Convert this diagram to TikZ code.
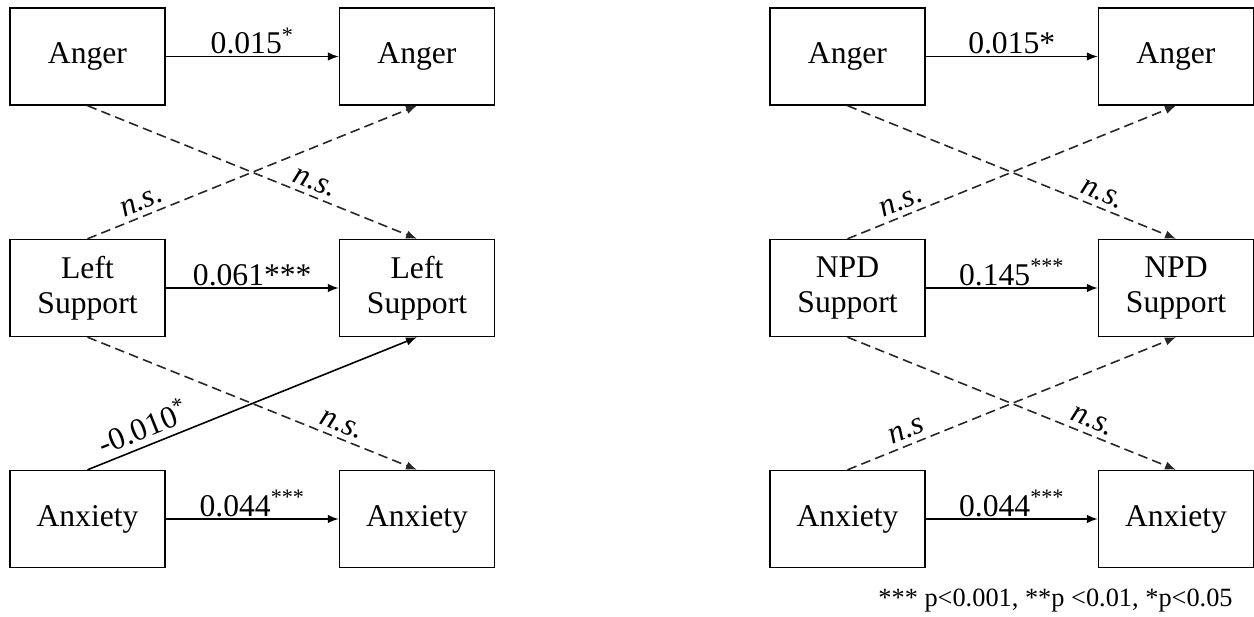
\documentclass[tikz,border=0pt]{standalone}
\usepackage{fontspec}
\setmainfont{Liberation Serif}
\usetikzlibrary{arrows.meta}

\newcommand{\figfont}{\fontsize{18}{20}\selectfont}

\tikzset{
  var/.style={draw, line width=0.8pt, minimum width=3.1cm, minimum height=1.94cm,
              align=center, inner sep=0pt},
  eff/.style={line width=0.9pt, -{Latex[length=0.22cm,width=0.17cm]}},
  nseff/.style={eff, black!85, dash pattern=on 5.5pt off 3pt},
  coef/.style={above, inner sep=1pt, text=black},
  nslab/.style={above, sloped, inner sep=3pt, text=black, font=\figfont\itshape}
}

\begin{document}
\begin{tikzpicture}[x=0.02cm, y=-0.02cm, font=\figfont]
    \useasboundingbox (0,0) rectangle (1254,617);
    % left panel
    \node[var] (angerLt0) at (87.5, 56.5) {Anger};
    \node[var] (angerLt1) at (417, 56.5) {Anger};
    \node[var] (leftLt0) at (87.5, 288) {Left\\Support};
    \node[var] (leftLt1) at (417, 288) {Left\\Support};
    \node[var] (anxLt0) at (87.5, 519) {Anxiety};
    \node[var] (anxLt1) at (417, 519) {Anxiety};
    \draw[eff] (angerLt0) -- (angerLt1) node[coef, midway] {0.015\textsuperscript{*}};
    \draw[eff] (leftLt0) -- (leftLt1) node[coef, midway] {0.061***};
    \draw[eff] (anxLt0) -- (anxLt1) node[coef, midway] {0.044\textsuperscript{***}};
    \draw[nseff] (angerLt0.south) -- (leftLt1.north) node[nslab, pos=0.675] {n.s.};
    \draw[nseff] (leftLt0.north) -- (angerLt1.south) node[nslab, pos=0.18] {n.s.};
    \draw[nseff] (leftLt0.south) -- (anxLt1.north) node[nslab, pos=0.757] {n.s.};
    \draw[eff] (anxLt0.north) -- (leftLt1.south) node[coef, sloped, pos=0.19, inner sep=3.5pt] {-0.010\textsuperscript{*}};
    % right panel
    \node[var] (angerRt0) at (847.5, 56.5) {Anger};
    \node[var] (angerRt1) at (1176, 56.5) {Anger};
    \node[var] (npdRt0) at (847.5, 288) {NPD\\Support};
    \node[var] (npdRt1) at (1176, 288) {NPD\\Support};
    \node[var] (anxRt0) at (847.5, 519) {Anxiety};
    \node[var] (anxRt1) at (1176, 519) {Anxiety};
    \draw[eff] (angerRt0) -- (angerRt1) node[coef, midway] {0.015*};
    \draw[eff] (npdRt0) -- (npdRt1) node[coef, midway] {0.145\textsuperscript{***}};
    \draw[eff] (anxRt0) -- (anxRt1) node[coef, midway] {0.044\textsuperscript{***}};
    \draw[nseff] (angerRt0.south) -- (npdRt1.north) node[nslab, pos=0.76] {n.s.};
    \draw[nseff] (npdRt0.north) -- (angerRt1.south) node[nslab, pos=0.18] {n.s.};
    \draw[nseff] (npdRt0.south) -- (anxRt1.north) node[nslab, pos=0.73] {n.s.};
    \draw[nseff] (anxRt0.north) -- (npdRt1.south) node[nslab, pos=0.196] {n.s};
    \node[anchor=east, inner sep=0pt, font=\fontsize{15}{18}\selectfont] (sig) at (1233, 601) {*** p<0.001, **p <0.01, *p<0.05};
\end{tikzpicture}
\end{document}
